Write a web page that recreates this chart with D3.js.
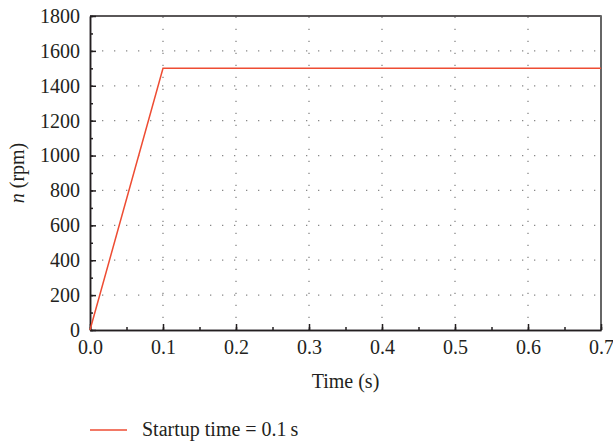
<!DOCTYPE html>
<meta charset="utf-8">
<script src="https://d3js.org/d3.v7.min.js"></script>
<style>
  body { margin: 0; background: #fff; }
</style>
<div id="chart"></div>
<script>
  // data
  var time = [0, 0.1, 0.7];
  var speed = [0, 1500, 1500];
  var xTicks = [0, 0.1, 0.2, 0.3, 0.4, 0.5, 0.6, 0.7];
  var yTicks = [0, 200, 400, 600, 800, 1000, 1200, 1400, 1600, 1800];
  var seriesName = "Startup time = 0.1\u2009s";

  var width = 613, height = 443;
  var mLeft = 90, mRight = 601, mTop = 16, mBottom = 330;
  var serif = "'Liberation Serif', 'Times New Roman', 'DejaVu Serif', serif";
  var ink = "#231f20";

  var svg = d3.select("#chart").append("svg")
    .attr("width", width)
    .attr("height", height);

  var x = d3.scaleLinear().domain([0, 0.7]).range([mLeft, mRight]);
  var y = d3.scaleLinear().domain([0, 1800]).range([mBottom, mTop]);

  // dotted grid
  var grid = svg.append("g");
  grid.selectAll(".gx")
    .data(xTicks.slice(1, -1))
    .enter().append("line")
    .attr("x1", function(d){ return x(d); })
    .attr("x2", function(d){ return x(d); })
    .attr("y1", mBottom).attr("y2", mTop)
    .attr("stroke", "#888").attr("stroke-width", 1.3)
    .attr("stroke-dasharray", "1.3,10.7");
  grid.selectAll(".gy")
    .data(yTicks.slice(1, -1))
    .enter().append("line")
    .attr("y1", function(d){ return y(d); })
    .attr("y2", function(d){ return y(d); })
    .attr("x1", mLeft).attr("x2", mRight)
    .attr("stroke", "#888").attr("stroke-width", 1.3)
    .attr("stroke-dasharray", "1.3,10.7");

  // frame top + right
  svg.append("line").attr("x1", mLeft).attr("x2", mRight).attr("y1", mTop).attr("y2", mTop)
    .attr("stroke", ink).attr("stroke-width", 1.5);
  svg.append("line").attr("x1", mRight).attr("x2", mRight).attr("y1", mTop - 0.75).attr("y2", mBottom)
    .attr("stroke", "#666").attr("stroke-width", 2);

  // axes with inward ticks (minor then major)
  var xMinor = d3.range(0, 0.7001, 0.05);
  var yMinor = d3.range(0, 1801, 100);

  var xAxis = svg.append("g").attr("transform", "translate(0," + mBottom + ")");
  xAxis.append("g")
    .call(d3.axisBottom(x).tickValues(xMinor).tickSizeInner(-3).tickSizeOuter(0).tickFormat(""));
  xAxis.append("g")
    .call(d3.axisBottom(x).tickValues(xTicks).tickSizeInner(-6).tickSizeOuter(0).tickPadding(10)
      .tickFormat(d3.format(".1f")));

  var yAxis = svg.append("g").attr("transform", "translate(" + mLeft + ",0)");
  yAxis.append("g")
    .call(d3.axisLeft(y).tickValues(yMinor).tickSizeInner(-3).tickSizeOuter(0).tickFormat(""));
  yAxis.append("g")
    .call(d3.axisLeft(y).tickValues(yTicks).tickSizeInner(-6).tickSizeOuter(0).tickPadding(10)
      .tickFormat(d3.format("d")));

  svg.selectAll(".tick line").attr("stroke", ink).attr("stroke-width", 1.5);
  svg.selectAll(".domain").attr("stroke", ink).attr("stroke-width", 1.5);

  // speed curve
  var line = d3.line()
    .x(function(d, i){ return x(time[i]); })
    .y(function(d){ return y(d); });
  svg.append("path")
    .datum(speed)
    .attr("d", line)
    .attr("fill", "none")
    .attr("stroke", "#ee4c33")
    .attr("stroke-width", 1.5);

  // axis titles
  svg.append("text")
    .attr("text-anchor", "middle")
    .attr("x", (mLeft + mRight) / 2)
    .attr("y", 388)
    .text("Time (s)");

  var yt = svg.append("text")
    .attr("text-anchor", "middle")
    .attr("transform", "translate(24," + ((mTop + mBottom) / 2) + ") rotate(-90)");
  yt.append("tspan").attr("font-style", "italic").text("n");
  yt.append("tspan").text(" (rpm)");

  // legend
  var lg = svg.append("g").attr("transform", "translate(90,430)");
  lg.append("line").attr("x1", 0).attr("x2", 37).attr("y1", 0).attr("y2", 0)
    .attr("stroke", "#ee4c33").attr("stroke-width", 1.3);
  lg.append("text").attr("x", 52).attr("y", 6).text(seriesName);

  // one serif face for all text
  svg.selectAll("g").attr("font-family", null).attr("font-size", null);
  svg.selectAll("text")
    .style("font-family", serif)
    .style("font-size", "20px")
    .style("fill", ink);
</script>
